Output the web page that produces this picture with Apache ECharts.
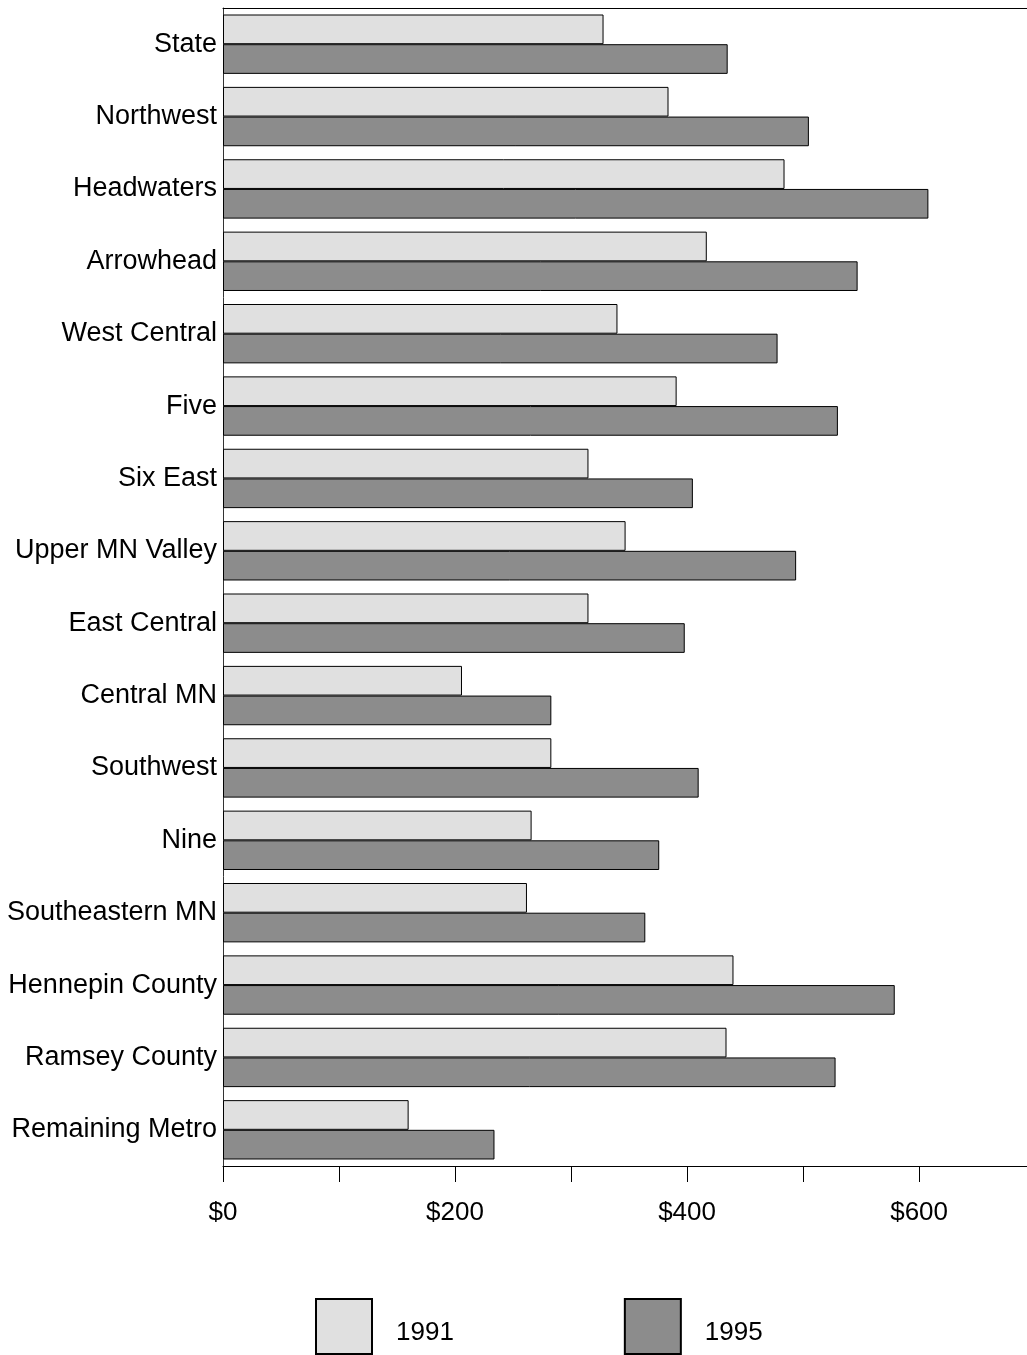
<!DOCTYPE html>
<html>
<head>
<meta charset="utf-8">
<script src="https://cdn.jsdelivr.net/npm/echarts@6/dist/echarts.min.js"></script>
<style>html,body{margin:0;padding:0;background:#fff}#c{width:1027px;height:1355px}</style>
</head>
<body>
<div id="c"></div>
<script>
const categories = ["State","Northwest","Headwaters","Arrowhead","West Central","Five","Six East","Upper MN Valley","East Central","Central MN","Southwest","Nine","Southeastern MN","Hennepin County","Ramsey County","Remaining Metro"];
const values1991 = [328,384,484,417,340,391,315,347,315,206,283,266,262,440,434,160];
const values1995 = [435,505,608,547,478,530,405,494,398,283,410,376,364,579,528,234];
const seriesNames = ["1991","1995"];
const tickValues = [0,100,200,300,400,500,600];
const labelValues = [0,200,400,600];

const font = '"Liberation Sans", Arial, sans-serif';
const chart = echarts.init(document.getElementById('c'), null, {renderer:'canvas'});
chart.setOption({
  animation:false,
  backgroundColor:'#fff',
  grid:{left:223, top:8, right:0, bottom:189, containLabel:false},
  legend:{
    left:310, top:1293, itemWidth:56, itemHeight:55, itemGap:170,
    icon:'rect',
    formatter:'{t|{name}}',
    textStyle:{fontFamily:font, fontSize:26, color:'#000', padding:[0,0,0,19],
      rich:{t:{fontFamily:font, fontSize:26, color:'#000', padding:[12,0,0,0]}}},
    data:seriesNames
  },
  xAxis:[{
    type:'value', min:0, max:693, interval:100,
    splitLine:{show:false},
    axisLine:{show:true, lineStyle:{color:'#000', width:1}},
    axisTick:{show:true, length:16, lineStyle:{color:'#000'}, customValues:tickValues},
    axisLabel:{fontFamily:font, fontSize:26, color:'#000', margin:34, lineHeight:26,
      customValues:labelValues, formatter:v=>'$'+v}
  },{
    type:'value', position:'top', min:0, max:693,
    splitLine:{show:false},
    axisLine:{show:true, lineStyle:{color:'#000', width:1}},
    axisTick:{show:false}, axisLabel:{show:false}
  }],
  yAxis:{
    type:'category', data:categories, inverse:true,
    axisLine:{show:true, lineStyle:{color:'#333', width:1}},
    axisTick:{show:false},
    axisLabel:{fontFamily:font, fontSize:27, color:'#000', margin:6}
  },
  series:[{
    name:seriesNames[0], type:'bar', data:values1991,
    barGap:'0%', barCategoryGap:'18%',
    itemStyle:{color:'#e0e0e0', borderColor:'#000', borderWidth:1}
  },{
    name:seriesNames[1], type:'bar', data:values1995,
    barGap:'0%', barCategoryGap:'18%',
    itemStyle:{color:'#8c8c8c', borderColor:'#000', borderWidth:1}
  }]
});
</script>
</body>
</html>
